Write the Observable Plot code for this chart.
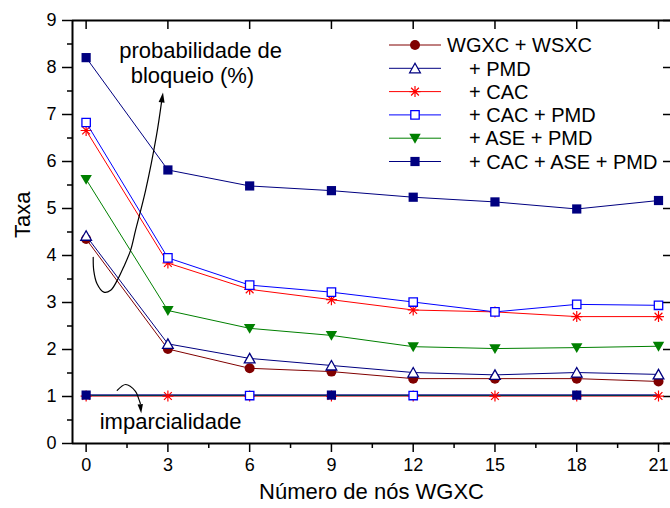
<!DOCTYPE html>
<html><head><meta charset="utf-8">
<script src="https://cdn.jsdelivr.net/npm/d3@7"></script>
<script src="https://cdn.jsdelivr.net/npm/@observablehq/plot@0.6"></script>
<style>body{margin:0;background:#fff}</style>
</head><body><div id="chart"></div>
<script>
// ---- data ----
const xValues = [0, 3, 6, 9, 12, 15, 18, 21];
const seriesNames = ["WGXC + WSXC", "+ PMD", "+ CAC", "+ CAC + PMD", "+ ASE + PMD", "+ CAC + ASE + PMD"];
// probabilidade de bloqueio (%)
const blockA = [4.35, 2.01, 1.60, 1.53, 1.38, 1.38, 1.38, 1.32];
const blockB = [4.42, 2.12, 1.81, 1.66, 1.51, 1.46, 1.51, 1.47];
const blockC = [6.66, 3.84, 3.28, 3.06, 2.84, 2.80, 2.70, 2.70];
const blockD = [6.83, 3.95, 3.37, 3.22, 3.01, 2.80, 2.96, 2.94];
const blockE = [5.62, 2.83, 2.45, 2.30, 2.06, 2.02, 2.04, 2.07];
const blockF = [8.21, 5.82, 5.48, 5.38, 5.24, 5.14, 4.99, 5.17];
// imparcialidade
const fairA = [1.02, 1.02, 1.02, 1.02, 1.02, 1.02, 1.02, 1.02];
const fairB = [1.03, 1.03, 1.03, 1.03, 1.03, 1.03, 1.03, 1.03];
const fairC = [1.01, 1.01, 1.01, 1.01, 1.01, 1.01, 1.01, 1.01];
const fairD = [1.02, 1.02, 1.02, 1.02, 1.02, 1.02, 1.02, 1.02];
const fairE = [1.02, 1.02, 1.02, 1.02, 1.02, 1.02, 1.02, 1.02];
const fairF = [1.03, 1.03, 1.03, 1.03, 1.03, 1.03, 1.03, 1.03];
// which series' marker is visible on top at each x in the overlapping fairness curves
const fairTop = [5, 2, 3, 5, 3, 2, 5, 2];
const yTicks = [0, 1, 2, 3, 4, 5, 6, 7, 8, 9];
const xLabel = "Número de nós WGXC";
const yLabel = "Taxa";
const annotations = [
  {x: 4.2, y: 8.36, text: "probabilidade de"},
  {x: 3.9, y: 7.81, text: "bloqueio (%)"},
  {x: 3.1, y: 0.45, text: "imparcialidade"}
];
const blockArrow = [
  {x: 0.26, y: 3.96}, {x: 0.28, y: 3.68}, {x: 0.40, y: 3.40}, {x: 0.65, y: 3.22},
  {x: 0.90, y: 3.26}, {x: 1.14, y: 3.47}, {x: 1.38, y: 3.76}, {x: 1.63, y: 4.11},
  {x: 1.81, y: 4.53}, {x: 2.18, y: 5.38}, {x: 2.58, y: 6.55}, {x: 2.77, y: 7.28}
];
const blockArrowTip = [{x: 2.82, y: 7.47}];
const fairArrow = [
  {x: 1.14, y: 1.13}, {x: 1.45, y: 1.255}, {x: 1.81, y: 1.11}, {x: 1.93, y: 0.95}, {x: 1.99, y: 0.85}
];
const fairArrowTip = [{x: 2.02, y: 0.645}];

// ---- symbols ----
const R = s => Math.sqrt(s / Math.PI);
const symSquare = {draw(c, s) { const r = R(s); c.rect(-r, -r, 2 * r, 2 * r); }};
const symCircle = {draw(c, s) { const r = R(s); c.moveTo(r, 0); c.arc(0, 0, r, 0, 2 * Math.PI); }};
const symTriUp = {draw(c, s) { const r = R(s); c.moveTo(0, -r); c.lineTo(r * 1.07, r * 0.9); c.lineTo(-r * 1.07, r * 0.9); c.closePath(); }};
const symTriDown = {draw(c, s) { const r = R(s); c.moveTo(0, r * 1.05); c.lineTo(r * 1.1, -r * 0.85); c.lineTo(-r * 1.1, -r * 0.85); c.closePath(); }};
const symStar = {draw(c, s) { const r = R(s); for (const a of [0, 45, 90, 135]) { const t = a * Math.PI / 180; c.moveTo(r * Math.cos(t), r * Math.sin(t)); c.lineTo(-r * Math.cos(t), -r * Math.sin(t)); } }};
const symArrow = {draw(c, s) { const r = R(s); c.moveTo(0, 0); c.lineTo(r * 0.6, r * 2); c.lineTo(-r * 0.6, r * 2); c.closePath(); }};

const styles = [
  {color: "#800000", symbol: symCircle, r: 5, fill: "#800000", stroke: "none", sw: 0},
  {color: "#000080", symbol: symTriUp, r: 5, fill: "#fff", stroke: "#000080", sw: 1.3},
  {color: "#ff0000", symbol: symStar, r: 5.5, fill: "none", stroke: "#ff0000", sw: 1.2},
  {color: "#0000ff", symbol: symSquare, r: 4.2, fill: "#fff", stroke: "#0000ff", sw: 1.3},
  {color: "#008000", symbol: symTriDown, r: 5.2, fill: "#008000", stroke: "none", sw: 0},
  {color: "#000080", symbol: symSquare, r: 4.6, fill: "#000080", stroke: "none", sw: 0}
];
const blockSeries = [blockA, blockB, blockC, blockD, blockE, blockF];
const fairSeries = [fairA, fairB, fairC, fairD, fairE, fairF];

const rows = vals => xValues.map((x, i) => ({x, y: vals[i], i}));
const dotOpts = st => ({x: "x", y: "y", symbol: st.symbol, r: st.r, fill: st.fill, stroke: st.stroke, strokeWidth: st.sw});

const font = "'Liberation Sans', Arial, Helvetica, sans-serif";

function legendMark() {
  const g = d3.create("svg:g").attr("font-family", font).attr("font-size", 20)
    .attr("fill", "#000").attr("text-anchor", "start");
  seriesNames.forEach((name, i) => {
    const st = styles[i];
    const y = 45 + i * 23.3;
    g.append("line").attr("x1", 389).attr("x2", 441).attr("y1", y).attr("y2", y)
      .attr("stroke", st.color).attr("stroke-width", 1);
    g.append("path").attr("transform", `translate(415,${y})`)
      .attr("d", d3.symbol(st.symbol, Math.PI * st.r * st.r)())
      .attr("fill", st.fill).attr("stroke", st.stroke).attr("stroke-width", st.sw);
    g.append("text").attr("x", i === 0 ? 447 : 469).attr("y", y).attr("dy", "0.36em").text(name);
  });
  return g.node();
}

const marks = [
  Plot.axisY({ticks: yTicks, tickSize: 10, tickPadding: 6, label: null, strokeWidth: 1.5, fontSize: 18}),
  Plot.axisY({ticks: d3.range(0.5, 9, 1), tickSize: 5, tickFormat: () => "", label: null, strokeWidth: 1.5}),
  Plot.axisY({anchor: "right", ticks: yTicks, tickSize: -8, tickFormat: () => "", label: null, strokeWidth: 1.5}),
  Plot.axisX({ticks: xValues, tickSize: 9, tickPadding: 6, label: null, strokeWidth: 1.5, fontSize: 18}),
  Plot.axisX({ticks: d3.range(1.5, 21, 3), tickSize: 5, tickFormat: () => "", label: null, strokeWidth: 1.5}),
  Plot.axisX({anchor: "top", ticks: xValues, tickSize: -8, tickFormat: () => "", label: null, strokeWidth: 1.5}),
  Plot.ruleX([-0.5], {strokeWidth: 2}),
  Plot.ruleY([0, 9], {strokeWidth: 2}),
  Plot.text([xLabel], {frameAnchor: "bottom", dy: 55, fontSize: 22}),
  Plot.text([yLabel], {frameAnchor: "left", dx: -50, dy: 6, rotate: -90, fontSize: 22})
];

// fairness curves (lines first)
fairSeries.forEach((vals, k) => marks.push(Plot.line(rows(vals), {x: "x", y: "y", stroke: styles[k].color, strokeWidth: 1})));
// fairness markers: the star sits underneath everywhere, squares only where they are the visible top marker
marks.push(Plot.dot(rows(fairC).filter(d => fairTop[d.i] !== 2), dotOpts(styles[2])));
[2, 3, 5].forEach(k => {
  marks.push(Plot.dot(rows(fairSeries[k]).filter(d => fairTop[d.i] === k), dotOpts(styles[k])));
});
// blocking probability curves
blockSeries.forEach((vals, k) => {
  marks.push(Plot.line(rows(vals), {x: "x", y: "y", stroke: styles[k].color, strokeWidth: 1}));
  marks.push(Plot.dot(rows(vals), dotOpts(styles[k])));
});
// annotations
marks.push(
  Plot.line(blockArrow, {x: "x", y: "y", curve: "catmull-rom", stroke: "#000", strokeWidth: 1.2}),
  Plot.dot(blockArrowTip, {x: "x", y: "y", symbol: symArrow, r: 5, fill: "#000", rotate: 8}),
  Plot.line(fairArrow, {x: "x", y: "y", curve: "catmull-rom", stroke: "#000", strokeWidth: 1.2}),
  Plot.dot(fairArrowTip, {x: "x", y: "y", symbol: symArrow, r: 4.5, fill: "#000", rotate: 174}),
  Plot.text(annotations, {x: "x", y: "y", text: "text", fontSize: 22, textAnchor: "middle"}),
  legendMark
);

const chart = Plot.plot({
  width: 670, height: 508,
  marginLeft: 72, marginRight: 0, marginTop: 20, marginBottom: 65,
  x: {domain: [-0.5, 21.44]},
  y: {domain: [0, 9]},
  style: {fontFamily: font, fontSize: "18px", color: "#000", background: "#fff"},
  marks
});
document.getElementById("chart").appendChild(chart);
</script>
</body></html>
